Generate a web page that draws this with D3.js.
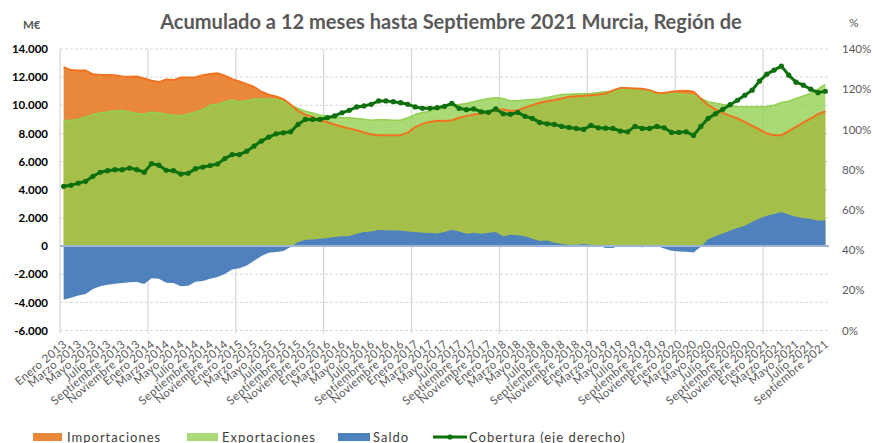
<!DOCTYPE html>
<html><head><meta charset="utf-8">
<script src="https://cdn.jsdelivr.net/npm/d3@7"></script>
<style>body{margin:0;background:#fff}svg{display:block}text{font-family:Lato,"Open Sans",sans-serif}</style>
</head><body><svg id="c" width="872" height="443"></svg>
<script>
const monthNames = ["Enero","Febrero","Marzo","Abril","Mayo","Junio","Julio","Agosto","Septiembre","Octubre","Noviembre","Diciembre"];
const years = [2013,2014,2015,2016,2017,2018,2019,2020,2021];
const nMonths = 105;

const importaciones = [12700,12500,12480,12470,12200,12150,12150,12140,12050,12020,12050,11900,11740,11650,11830,11790,11980,11980,12000,12140,12220,12280,12100,11850,11700,11500,11300,10960,10750,10620,10440,10050,9600,9330,9180,8960,8800,8640,8480,8350,8230,8070,7930,7880,7870,7870,7880,8060,8450,8680,8820,8900,8880,8940,9110,9250,9350,9420,9530,9650,9720,9600,9650,9840,10010,10180,10290,10370,10480,10600,10650,10670,10720,10770,10840,11060,11230,11230,11200,11170,11080,10890,10870,10960,11010,11030,10960,10480,10010,9720,9460,9250,9060,8820,8540,8280,7990,7870,7870,8160,8470,8780,9060,9370,9580];
const exportaciones = [8920,8940,9010,9180,9350,9460,9530,9610,9630,9530,9420,9370,9530,9460,9370,9300,9270,9370,9530,9700,10010,10080,10250,10370,10250,10330,10440,10440,10440,10420,10290,10010,9770,9580,9460,9300,9250,9180,9130,9110,9060,9010,8940,8970,8970,8940,8940,9110,9350,9490,9580,9800,9870,10010,10060,10130,10250,10370,10480,10530,10480,10320,10320,10370,10410,10440,10550,10670,10770,10790,10820,10820,10840,10910,10960,11000,11100,11200,11150,11150,11010,10870,10840,10840,10820,10750,10720,10480,10250,10150,10060,9990,9910,9890,9890,9890,9910,10010,10200,10290,10480,10670,10840,11150,11480];
const saldo = [-3820,-3680,-3520,-3400,-3050,-2850,-2750,-2680,-2620,-2570,-2560,-2700,-2280,-2330,-2600,-2620,-2850,-2820,-2530,-2480,-2330,-2200,-1980,-1670,-1580,-1380,-1050,-700,-470,-430,-350,-70,280,450,470,520,570,640,690,710,880,1000,1040,1140,1120,1100,1100,1040,1000,950,930,900,1000,1160,1040,880,950,880,950,1000,690,810,760,690,520,360,400,240,140,100,90,140,95,50,-140,-140,50,-60,0,-80,-40,0,-180,-330,-380,-400,-460,-50,480,720,900,1100,1290,1450,1700,1950,2150,2270,2420,2250,2080,2000,1930,1800,1840];
const cobertura = [71.7,72.2,73.3,74.2,76.7,78.7,79.5,80.0,80.0,80.8,80.0,78.7,83.0,82.2,79.7,79.5,77.8,78.2,80.5,81.3,82.0,82.8,85.5,87.5,87.5,89.2,91.7,94.2,96.2,97.8,98.3,98.8,102.5,105.0,105.0,105.0,105.8,106.7,108.3,109.5,111.2,111.7,112.5,114.2,114.2,113.8,113.3,112.5,111.2,110.5,110.5,110.8,111.5,113.0,110.5,109.8,110.2,108.8,108.5,110.2,107.8,107.5,108.5,106.5,105.5,103.5,102.8,102.5,101.5,101.0,100.5,100.0,102.0,100.8,100.6,100.5,99.2,98.8,101.5,100.5,100.5,101.5,100.8,98.5,98.5,98.8,97.0,101.5,105.5,107.8,110.0,112.3,114.5,117.0,119.5,124.0,127.5,129.5,131.5,127.0,123.5,122.0,120.0,118.3,119.0];

const leftTicks = [-6000,-4000,-2000,0,2000,4000,6000,8000,10000,12000,14000];
const rightTicks = [0,20,40,60,80,100,120,140];
const title = "Acumulado a 12 meses hasta Septiembre 2021 Murcia, Región de";
const legendLabels = ["Importaciones","Exportaciones","Saldo","Cobertura (eje derecho)"];

const categories = [];
years.forEach(y => monthNames.forEach(m => { if (categories.length < nMonths) categories.push(m + " " + y); }));
const data = categories.map((c,i) => ({c, imp: importaciones[i], exp: exportaciones[i], sal: saldo[i], cob: cobertura[i]}));

const svg = d3.select("#c");
const L = 60, R = 829, T = 49, B = 330.5;
const x = d3.scaleBand().domain(categories).range([L, R]);
const xc = c => x(c) + x.bandwidth()/2;
const y = d3.scaleLinear().domain([-6000,14000]).range([B, T]);
const y2 = d3.scaleLinear().domain([0,140]).range([B, T]);
const loc = d3.formatLocale({decimal:",", thousands:".", grouping:[3], currency:["","€"], minus:"-"});
const fmt = loc.format(",d");

// gridlines
svg.append("g").selectAll("line").data(leftTicks).join("line")
  .attr("x1", L).attr("x2", R).attr("y1", d => y(d)).attr("y2", d => y(d))
  .attr("stroke", "#d9d9d9").attr("stroke-width", 1).attr("stroke-dasharray", "3,2");
const yearStarts = categories.filter((c,i) => i % 12 === 0);
svg.append("g").selectAll("line").data(yearStarts).join("line")
  .attr("x1", d => x(d)).attr("x2", d => x(d)).attr("y1", T).attr("y2", B + 3)
  .attr("stroke", "#d9d9d9").attr("stroke-width", 1.3);

// areas
const aImp = d3.area().x(d => xc(d.c)).y0(y(0)).y1(d => y(d.imp));
const aExp = d3.area().x(d => xc(d.c)).y0(y(0)).y1(d => y(d.exp));
const aSal = d3.area().x(d => xc(d.c)).y0(y(0)).y1(d => y(d.sal));
svg.append("path").datum(data).attr("d", aImp).attr("fill", "#E9873A");
svg.append("path").datum(data).attr("d", aExp).attr("fill", "#92D050").attr("fill-opacity", 0.78);
svg.append("path").datum(data).attr("d", d3.line().x(d => xc(d.c)).y(d => y(d.exp))).attr("fill", "none").attr("stroke", "#92D050").attr("stroke-width", 1.5);
svg.append("path").datum(data).attr("d", d3.line().x(d => xc(d.c)).y(d => y(d.imp))).attr("fill", "none").attr("stroke", "#F07320").attr("stroke-width", 2);
svg.append("path").datum(data).attr("d", aSal).attr("fill", "#4F81BD");
// zero line
svg.append("line").attr("x1", L).attr("x2", R).attr("y1", y(0)).attr("y2", y(0)).attr("stroke", "#9DB5D6").attr("stroke-width", 2);

// cobertura
svg.append("path").datum(data).attr("d", d3.line().x(d => xc(d.c)).y(d => y2(d.cob)))
  .attr("fill", "none").attr("stroke", "#0D700D").attr("stroke-width", 3).attr("stroke-linejoin", "round");
svg.append("g").selectAll("circle").data(data).join("circle")
  .attr("cx", d => xc(d.c)).attr("cy", d => y2(d.cob)).attr("r", 2.6).attr("fill", "#0D700D");

// left axis
const gl = svg.append("g").attr("transform", `translate(${L},0)`)
  .call(d3.axisLeft(y).tickValues(leftTicks).tickFormat(fmt).tickSize(0).tickPadding(12));
gl.select(".domain").remove();
gl.selectAll("text").attr("font-size", 11.5).attr("font-weight", "bold").attr("fill", "#000").style("font-family", "Lato");

// right axis
const gr = svg.append("g").attr("transform", `translate(${R},0)`)
  .call(d3.axisRight(y2).tickValues(rightTicks).tickFormat(d => d + "%").tickSize(0).tickPadding(13));
gr.select(".domain").remove();
gr.selectAll("text").attr("font-size", 11.5).attr("fill", "#595959").style("font-family", "Lato");

// bottom axis
const evenCats = categories.filter((c,i) => i % 2 === 0);
const gb = svg.append("g").attr("transform", `translate(0,${B})`)
  .call(d3.axisBottom(x).tickValues(evenCats).tickSize(0));
gb.select(".domain").remove();
gb.selectAll("text").attr("font-size", 11.5).attr("fill", "#595959").style("font-family", "Lato")
  .attr("letter-spacing", 0.4)
  .attr("text-anchor", "end").attr("dy", null).attr("y", 0)
  .attr("transform", "translate(4,15) rotate(-40)");

// title and units
const tt = svg.append("text").attr("x", 451).attr("y", 29).attr("text-anchor", "middle")
  .attr("font-weight", "bold").attr("font-size", 17).attr("fill", "#595959").text(title);
const tw = tt.node().getComputedTextLength();
tt.attr("font-size", 17 * 582 / tw);
svg.append("text").attr("x", 23).attr("y", 29).attr("font-size", 11.5).attr("font-weight", "bold").attr("fill", "#595959").text("M€");
svg.append("text").attr("x", 849).attr("y", 27).attr("font-size", 12).attr("fill", "#595959").text("%");

// legend
const lg = svg.append("g");
const lgItems = [
  {t: legendLabels[0], x: 33, w: 29, tx: 67, fill: "#E9873A"},
  {t: legendLabels[1], x: 187, w: 31, tx: 222, fill: "#AADA76"},
  {t: legendLabels[2], x: 338, w: 32, tx: 373, fill: "#4F81BD"}
];
lgItems.forEach(it => {
  lg.append("rect").attr("x", it.x).attr("y", 433).attr("width", it.w).attr("height", 8).attr("fill", it.fill);
  lg.append("text").attr("x", it.tx).attr("y", 441.5).attr("font-size", 13).attr("fill", "#404040").attr("letter-spacing", 1).text(it.t);
});
lg.append("line").attr("x1", 433).attr("x2", 467).attr("y1", 437).attr("y2", 437).attr("stroke", "#0D700D").attr("stroke-width", 3);
lg.append("circle").attr("cx", 450).attr("cy", 437).attr("r", 2.6).attr("fill", "#0D700D");
lg.append("text").attr("x", 469).attr("y", 441.5).attr("font-size", 13).attr("fill", "#404040").attr("letter-spacing", 1).text(legendLabels[3]);
</script></body></html>
